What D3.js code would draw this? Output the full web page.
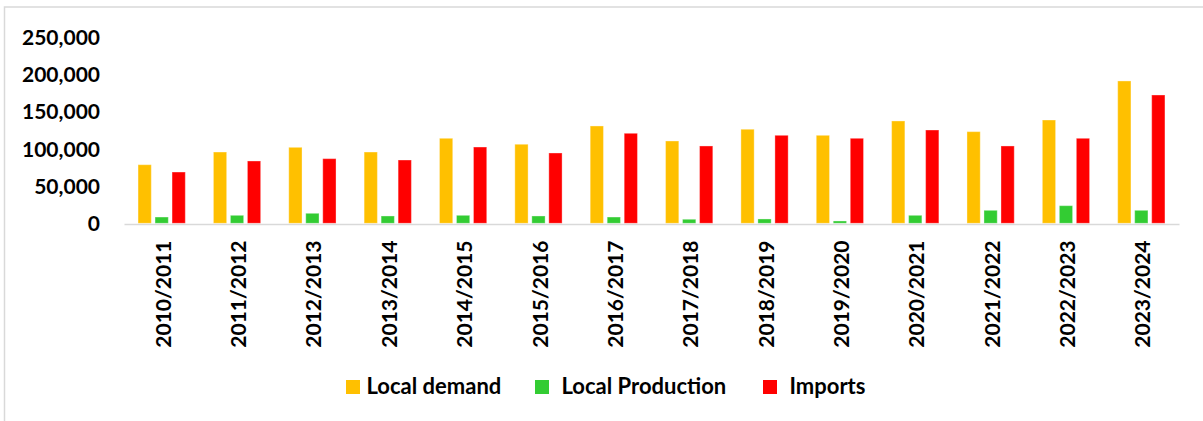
<!DOCTYPE html>
<html>
<head>
<meta charset="utf-8">
<script src="https://cdn.jsdelivr.net/npm/d3@7/dist/d3.min.js"></script>
<style>
  html, body { margin: 0; padding: 0; background: #fff; }
  svg { display: block; }
  text { font-family: Lato, "Open Sans", sans-serif; font-weight: 700; fill: #000; }
</style>
</head>
<body>
<svg id="chart" width="1203" height="421"></svg>
<script>
// Seasons on the category axis
const seasons = ["2010/2011", "2011/2012", "2012/2013", "2013/2014", "2014/2015",
  "2015/2016", "2016/2017", "2017/2018", "2018/2019", "2019/2020",
  "2020/2021", "2021/2022", "2022/2023", "2023/2024"];

// Series values (tonnes)
const localDemand = [78500, 95500, 101800, 95500, 113900, 105900, 130400, 110300,
  126000, 117900, 137100, 122800, 138400, 190700];
const localProduction = [8400, 10700, 13400, 9800, 10700, 9800, 8400, 5400,
  5800, 3100, 10700, 17400, 23600, 17400];
const imports = [68700, 83500, 86600, 84800, 102200, 94200, 120600, 103600,
  117900, 113900, 125000, 103600, 113900, 171900];

const seriesNames = ["Local demand", "Local Production", "Imports"];
const seriesColors = ["#FFC000", "#33CC33", "#FF0000"];
const yTicks = [0, 50000, 100000, 150000, 200000, 250000];

const series = [localDemand, localProduction, imports];

const svg = d3.select("#chart");

// Outer chart frame
svg.append("rect")
  .attr("x", 4.5).attr("y", 7)
  .attr("width", 1400).attr("height", 600)
  .attr("fill", "none")
  .attr("stroke", "#d9d9d9")
  .attr("stroke-width", 1.5);

const plot = { left: 124, right: 1179, top: 36.7, bottom: 223.3 };

const x = d3.scaleBand()
  .domain(seasons)
  .range([plot.left, plot.right])
  .padding(0);

const xInner = d3.scaleBand()
  .domain(seriesNames)
  .range([-25.5, 25.5])
  .paddingInner(0.22)
  .paddingOuter(0.11);

const y = d3.scaleLinear()
  .domain([0, 250000])
  .range([plot.bottom, plot.top]);

// Y axis labels (no axis line or gridlines)
const yAxis = d3.axisLeft(y)
  .tickValues(yTicks)
  .tickFormat(d3.format(","))
  .tickSize(0)
  .tickPadding(0);

svg.append("g")
  .attr("transform", "translate(100,0)")
  .call(yAxis)
  .call(g => g.select(".domain").remove())
  .call(g => g.selectAll("text")
    .attr("font-size", 21)
    .attr("font-family", "Lato, sans-serif")
    .attr("font-weight", 700)
    .attr("fill", "#000")
    .attr("dy", "0.36em"));

// Bars
const groups = svg.append("g")
  .selectAll("g")
  .data(seasons)
  .join("g")
  .attr("transform", d => `translate(${x(d) + x.bandwidth() / 2},0)`);

groups.selectAll("rect")
  .data((d, i) => series.map((s, k) => ({ name: seriesNames[k], value: s[i], color: seriesColors[k] })))
  .join("rect")
  .attr("x", d => xInner(d.name))
  .attr("width", xInner.bandwidth())
  .attr("y", d => y(d.value))
  .attr("height", d => y(0) - y(d.value))
  .attr("fill", d => d.color)
  .attr("stroke", "#fff")
  .attr("stroke-opacity", 0.35)
  .attr("stroke-width", 1);

// Category axis line
const xAxis = d3.axisBottom(x).tickSize(0).tickPadding(0);
svg.append("g")
  .attr("transform", `translate(0,${plot.bottom + 0.7})`)
  .call(xAxis)
  .call(g => g.select(".domain")
    .attr("stroke", "#d9d9d9")
    .attr("stroke-width", 1.5))
  .call(g => g.selectAll(".tick text")
    .attr("font-size", 21)
    .attr("font-family", "Lato, sans-serif")
    .attr("font-weight", 700)
    .attr("fill", "#000")
    .attr("text-anchor", "end")
    .attr("transform", "translate(1.5,16.5) rotate(-90)")
    .attr("x", 0)
    .attr("y", 0)
    .attr("dy", "0.36em"));

// Legend
const legendX = [346, 535, 763];
const legendTextX = [366.5, 561.5, 789.5];
const legend = svg.append("g");
seriesNames.forEach((name, k) => {
  legend.append("rect")
    .attr("x", legendX[k]).attr("y", 380)
    .attr("width", 14).attr("height", 14)
    .attr("fill", seriesColors[k]);
  legend.append("text")
    .attr("x", legendTextX[k]).attr("y", 394)
    .attr("font-size", 22)
    .text(name);
});
</script>
</body>
</html>
